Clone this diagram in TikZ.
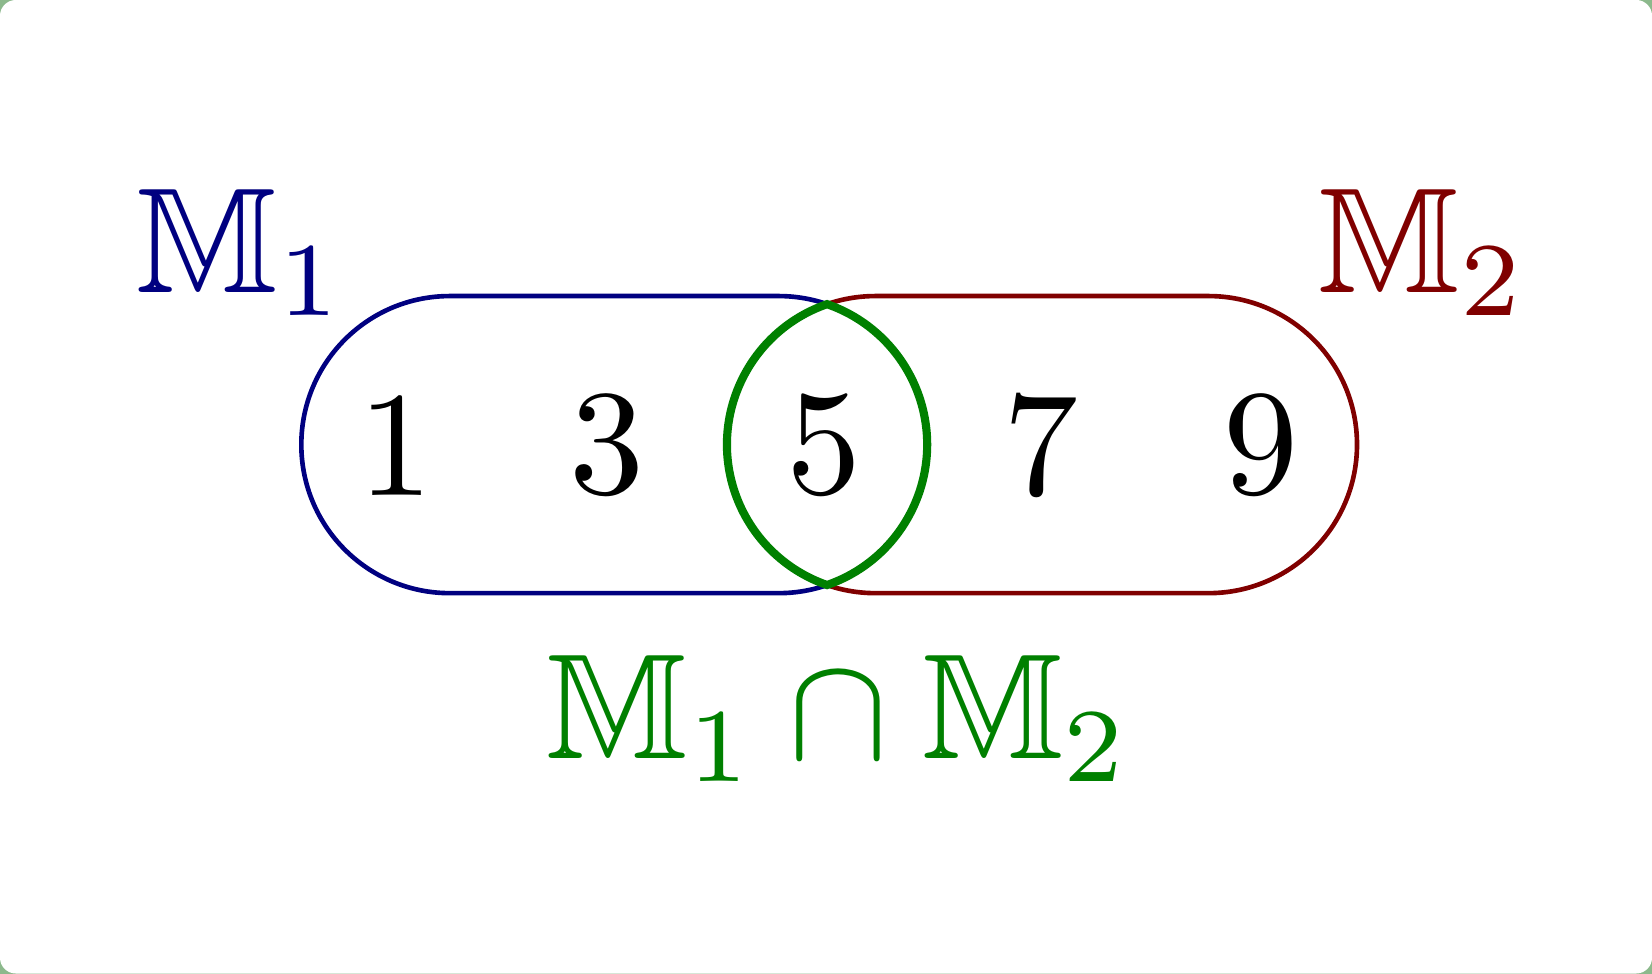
\documentclass[tikz,border=0pt]{standalone}
\usepackage{amssymb}
\definecolor{mblue}{RGB}{0,0,128}
\definecolor{mred}{RGB}{128,0,0}
\definecolor{mgreen}{RGB}{0,128,0}
\definecolor{pagebg}{RGB}{140,185,140}
\tikzset{
  digit/.style={inner sep=0pt, scale=8.1},
  lbl/.style={inner sep=0pt, anchor=base west, scale=8.1},
  setline/.style={line width=2.5pt},
  lens/.style={line width=4.4pt, draw=mgreen},
}
\begin{document}
\begin{tikzpicture}[x=0.02cm,y=0.02cm]
\useasboundingbox (0,0) rectangle (1568,924);
\fill[pagebg] (0,0) rectangle (1568,924);
\fill[white, rounded corners=0.3cm] (0,0) rectangle (1568,924);
% centres
\coordinate (bl) at (427,502);
\coordinate (br) at (739,502);
\coordinate (rl) at (831,502);
\coordinate (rr) at (1147,502);
% blue stadium
\draw[setline, mblue] (427,643) -- (739,643) arc[start angle=90, end angle=-90, radius=141]
  -- (427,361) arc[start angle=270, end angle=90, radius=141] -- cycle;
% red stadium
\draw[setline, mred] (831,643) -- (1147,643) arc[start angle=90, end angle=-90, radius=141]
  -- (831,361) arc[start angle=270, end angle=90, radius=141] -- cycle;
% lens (intersection)
\draw[lens, line join=miter] (785,635.3) arc[start angle=109.04, end angle=250.96, radius=141]
  arc[start angle=-70.96, end angle=70.96, radius=141] -- cycle;
% digits
\node[digit] (d1) at (376,501) {1};
\node[digit] (d3) at (576,501) {3};
\node[digit] (d5) at (782,501) {5};
\node[digit] (d7) at (988,501) {7};
\node[digit] (d9) at (1197,501) {9};
% labels
\node[lbl, text=mblue] (m1) at (127,646) {$\mathbb{M}_1$};
\node[lbl, text=mred] (m2) at (1249,646) {$\mathbb{M}_2$};
\node[lbl, text=mgreen] (m12) at (516,204) {$\mathbb{M}_1\cap\mathbb{M}_2$};
\end{tikzpicture}
\end{document}
